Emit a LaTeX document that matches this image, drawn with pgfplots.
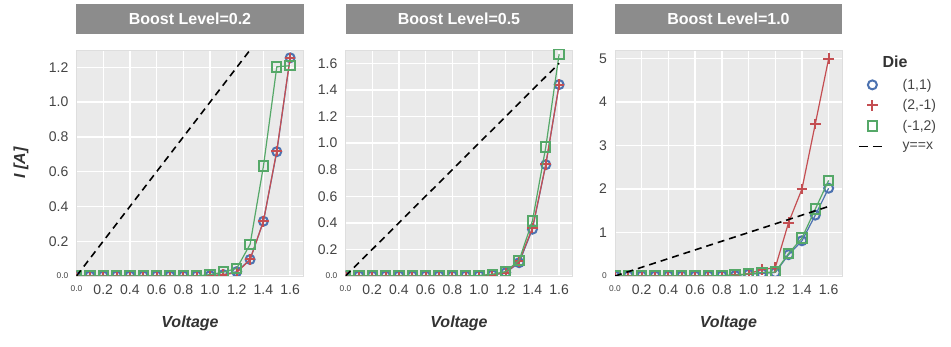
\documentclass[border=0pt]{standalone}
\usepackage{fontspec}
\setmainfont{Liberation Sans}
\usepackage{pgfplots}
\pgfplotsset{compat=1.18}
\definecolor{cblue}{HTML}{4C72B0}
\definecolor{cred}{HTML}{C44E52}
\definecolor{cgreen}{HTML}{55A868}
\definecolor{bgc}{HTML}{EAEAEA}
\definecolor{titlebg}{HTML}{8C8C8C}
\definecolor{tickc}{HTML}{444444}
\definecolor{labc}{HTML}{333333}
\newcommand{\sm}[1]{{\fontsize{8.4}{9}\selectfont #1}}
\pgfplotsset{
  panel/.style={
    scale only axis, width=227pt, height=226pt,
    xmin=0, xmax=1.7, ymin=0,
    axis background/.style={fill=bgc},
    axis line style={draw=black!13, line width=0.8pt},
    grid=major, major grid style={white, line width=1.4pt},
    major tick length=0pt, tick style={draw=none},
    xtick={0,0.2,0.4,0.6,0.8,1.0,1.2,1.4,1.6},
    xticklabels={\sm{0.0},0.2,0.4,0.6,0.8,1.0,1.2,1.4,1.6},
    ticklabel style={font=\fontsize{14}{16}\selectfont, text=tickc},
    xticklabel style={anchor=north, inner sep=0pt, yshift=-9pt},
    yticklabel style={anchor=east, inner sep=0pt, xshift=-8pt},
    title style={at={(0.5,1)}, anchor=south, yshift=10pt, fill=titlebg, text=white,
      font=\fontsize{16}{18}\selectfont\bfseries, minimum width=227pt, minimum height=30pt, inner sep=0pt},
    xlabel={Voltage},
    xlabel style={at={(axis description cs:0.5,-0.208)}, anchor=center,
      font=\fontsize{16}{18}\selectfont\bfseries\itshape, text=labc},
    clip marker paths=true,
    legend image code/.code={\draw[mark repeat=2,mark phase=2,#1] plot coordinates {(0pt,0pt) (13.5pt,0pt) (27pt,0pt)};},
  },
  sb/.style={cblue, line width=1.2pt, mark=o, mark size=4.5pt, mark options={line width=2pt, solid}},
  sr/.style={cred, line width=1.2pt, mark=+, mark size=5.3pt, mark options={line width=2pt, solid}},
  sg/.style={cgreen, line width=1.2pt, mark=square, mark size=4.7pt, mark options={line width=2pt, solid}},
  sd/.style={black, line width=1.6pt, dash pattern=on 7pt off 5pt, no marks},
}
\begin{document}
\begin{tikzpicture}[x=1pt,y=1pt]
\useasboundingbox (0,0) rectangle (951,347);
% Panel 1
\begin{axis}[panel, at={(76.5pt,71pt)}, anchor=south west,
  ymax=1.3, title={Boost Level=0.2},
  ytick={0,0.2,0.4,0.6,0.8,1.0,1.2},
  yticklabels={\sm{0.0},0.2,0.4,0.6,0.8,1.0,1.2},
  ylabel={I [A]},
  ylabel style={at={(axis description cs:-0.245,0.5)}, anchor=center,
    font=\fontsize{16}{18}\selectfont\bfseries\itshape, text=labc}]
\addplot[sb] coordinates {(0,0) (0.1,0) (0.2,0) (0.3,0) (0.4,0) (0.5,0) (0.6,0) (0.7,0) (0.8,0) (0.9,0) (1.0,0.002) (1.1,0.008) (1.2,0.025) (1.3,0.095) (1.4,0.315) (1.5,0.715) (1.6,1.255)};
\addplot[sr] coordinates {(0,0) (0.1,0) (0.2,0) (0.3,0) (0.4,0) (0.5,0) (0.6,0) (0.7,0) (0.8,0) (0.9,0) (1.0,0.002) (1.1,0.007) (1.2,0.02) (1.3,0.095) (1.4,0.315) (1.5,0.72) (1.6,1.255)};
\addplot[sg] coordinates {(0,0) (0.1,0) (0.2,0) (0.3,0) (0.4,0) (0.5,0) (0.6,0) (0.7,0) (0.8,0) (0.9,0) (1.0,0.008) (1.1,0.022) (1.2,0.044) (1.3,0.182) (1.4,0.632) (1.5,1.203) (1.6,1.21)};
\addplot[sd] coordinates {(0,0) (1.6,1.6)};
\end{axis}
% Panel 2
\begin{axis}[panel, at={(345.5pt,71pt)}, anchor=south west,
  ymax=1.7, title={Boost Level=0.5},
  ytick={0,0.2,0.4,0.6,0.8,1.0,1.2,1.4,1.6},
  yticklabels={\sm{0.0},0.2,0.4,0.6,0.8,1.0,1.2,1.4,1.6}]
\addplot[sb] coordinates {(0,0) (0.1,0) (0.2,0) (0.3,0) (0.4,0) (0.5,0) (0.6,0) (0.7,0) (0.8,0) (0.9,0) (1.0,0.002) (1.1,0.008) (1.2,0.025) (1.3,0.10) (1.4,0.352) (1.5,0.837) (1.6,1.44)};
\addplot[sr] coordinates {(0,0) (0.1,0) (0.2,0) (0.3,0) (0.4,0) (0.5,0) (0.6,0) (0.7,0) (0.8,0) (0.9,0) (1.0,0.002) (1.1,0.008) (1.2,0.025) (1.3,0.11) (1.4,0.36) (1.5,0.84) (1.6,1.44)};
\addplot[sg] coordinates {(0,0) (0.1,0) (0.2,0) (0.3,0) (0.4,0) (0.5,0) (0.6,0) (0.7,0) (0.8,0) (0.9,0) (1.0,0.003) (1.1,0.013) (1.2,0.033) (1.3,0.118) (1.4,0.415) (1.5,0.97) (1.6,1.67)};
\addplot[sd] coordinates {(0,0) (1.6,1.6)};
\end{axis}
% Panel 3
\begin{axis}[panel, at={(615pt,71pt)}, anchor=south west,
  ymax=5.2, title={Boost Level=1.0},
  ytick={0,1,2,3,4,5},
  yticklabels={\sm{0},1,2,3,4,5},
  legend style={at={(axis description cs:1.07,0.892)}, anchor=north west, draw=none, fill=none,
    font=\fontsize{14}{16}\selectfont, text=tickc, inner sep=0pt, row sep=0pt,
    nodes={inner sep=0pt, minimum height=20.5pt},
    /tikz/every odd column/.append style={column sep=16pt}},
  legend cell align=left]
\addplot[sb, forget plot] coordinates {(0,0) (0.1,0) (0.2,0) (0.3,0) (0.4,0) (0.5,0) (0.6,0) (0.7,0) (0.8,0.005) (0.9,0.01) (1.0,0.04) (1.1,0.06) (1.2,0.08) (1.3,0.49) (1.4,0.81) (1.5,1.40) (1.6,2.02)};
\addplot[sr, forget plot] coordinates {(0,0) (0.1,0) (0.2,0) (0.3,0) (0.4,0) (0.5,0) (0.6,0) (0.7,0) (0.8,0.005) (0.9,0.02) (1.0,0.05) (1.1,0.15) (1.2,0.19) (1.3,1.23) (1.4,2.0) (1.5,3.5) (1.6,5.0)};
\addplot[sg, forget plot] coordinates {(0,0) (0.1,0) (0.2,0) (0.3,0) (0.4,0) (0.5,0) (0.6,0) (0.7,0) (0.8,0.01) (0.9,0.02) (1.0,0.05) (1.1,0.08) (1.2,0.09) (1.3,0.52) (1.4,0.87) (1.5,1.54) (1.6,2.2)};
\addplot[sd, forget plot] coordinates {(0,0) (1.6,1.6)};
\addlegendimage{only marks, cblue, mark=o, mark size=4.5pt, mark options={line width=2pt}}
\addlegendentry{(1,1)}
\addlegendimage{only marks, cred, mark=+, mark size=5.3pt, mark options={line width=2pt}}
\addlegendentry{(2,-1)}
\addlegendimage{only marks, cgreen, mark=square, mark size=4.7pt, mark options={line width=2pt}}
\addlegendentry{(-1,2)}
\addlegendimage{black, line width=1.6pt, dash pattern=on 9pt off 5pt}
\addlegendentry{y==x}
\end{axis}
\node[font=\fontsize{16}{18}\selectfont\bfseries, text=labc, anchor=center] at (895,285) {Die};
\end{tikzpicture}
\end{document}
